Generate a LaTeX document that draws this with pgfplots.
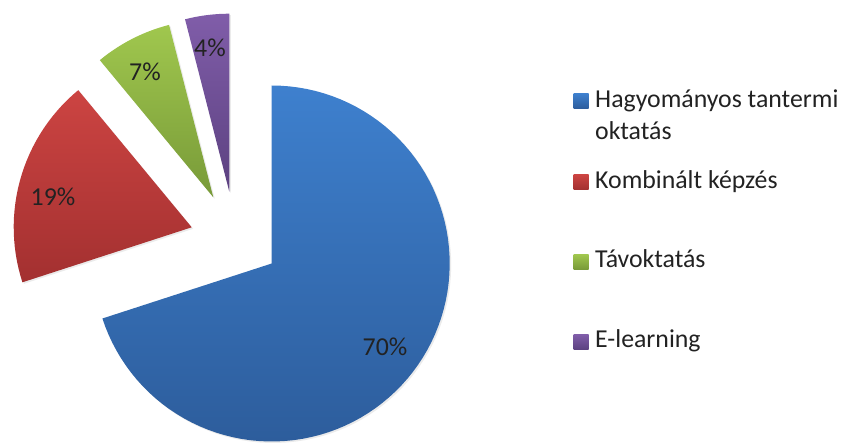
\documentclass[border=0pt]{standalone}
\usepackage{pgfplots}
\pgfplotsset{compat=1.18}
\usepackage{fontspec}
\setmainfont{Carlito}
\definecolor{blueT}{HTML}{3E80CE}
\definecolor{blueB}{HTML}{2D5D9C}
\definecolor{redT}{HTML}{CC4442}
\definecolor{redB}{HTML}{A33030}
\definecolor{greenT}{HTML}{A0C74E}
\definecolor{greenB}{HTML}{789A38}
\definecolor{purT}{HTML}{805DA9}
\definecolor{purB}{HTML}{5C4180}
\definecolor{txt}{HTML}{222222}
\tikzset{lbl/.style={font=\fontsize{25.8}{31}\selectfont, text=txt},
         leg/.style={lbl, anchor=base west, inner sep=0pt}}
% data (percent)
\def\vA{70}\def\vB{19}\def\vC{7}\def\vD{4}
\pgfmathsetmacro\aD{90}
\pgfmathsetmacro\aC{\aD+3.6*\vD}
\pgfmathsetmacro\aB{\aC+3.6*\vC}
\pgfmathsetmacro\aA{\aB+3.6*\vB}
\pgfmathsetmacro\aE{\aA+3.6*\vA}
\def\R{178}
\begin{document}
\begin{tikzpicture}
\begin{axis}[
  scale only axis, width=847pt, height=440pt,
  xmin=0, xmax=847, ymin=-440, ymax=0,
  hide axis, clip=false,
]
\path (axis cs:0,0) rectangle (axis cs:847,-440);
% shadows
\addplot[fill=black, opacity=0.08, draw=none, domain=\aA:\aE, samples=90, variable=\t]
  ({273.2+\R*cos(t)}, {-265+\R*sin(t)}) -- (axis cs:273.2,-265) -- cycle;
\addplot[fill=black, opacity=0.08, draw=none, domain=\aB:\aA, samples=30, variable=\t]
  ({193.2+\R*cos(t)}, {-228.8+\R*sin(t)}) -- (axis cs:193.2,-228.8) -- cycle;
\addplot[fill=black, opacity=0.08, draw=none, domain=\aC:\aB, samples=15, variable=\t]
  ({214.8+\R*cos(t)}, {-198.8+\R*sin(t)}) -- (axis cs:214.8,-198.8) -- cycle;
\addplot[fill=black, opacity=0.08, draw=none, domain=\aD:\aC, samples=10, variable=\t]
  ({230.8+\R*cos(t)}, {-193.2+\R*sin(t)}) -- (axis cs:230.8,-193.2) -- cycle;
% sectors
\addplot[draw=none, top color=blueT, bottom color=blueB, domain=\aA:\aE, samples=90, variable=\t]
  ({271.7+\R*cos(t)}, {-263.5+\R*sin(t)}) -- (axis cs:271.7,-263.5) -- cycle;
\addplot[draw=none, top color=redT, bottom color=redB, domain=\aB:\aA, samples=30, variable=\t]
  ({191.7+\R*cos(t)}, {-227.3+\R*sin(t)}) -- (axis cs:191.7,-227.3) -- cycle;
\addplot[draw=none, top color=greenT, bottom color=greenB, domain=\aC:\aB, samples=15, variable=\t]
  ({213.3+\R*cos(t)}, {-197.3+\R*sin(t)}) -- (axis cs:213.3,-197.3) -- cycle;
\addplot[draw=none, top color=purT, bottom color=purB, domain=\aD:\aC, samples=10, variable=\t]
  ({229.3+\R*cos(t)}, {-191.7+\R*sin(t)}) -- (axis cs:229.3,-191.7) -- cycle;
% percentage labels
\node[lbl] at (axis cs:385,-347) {70\%};
\node[lbl] at (axis cs:53,-197) {19\%};
\node[lbl] at (axis cs:145,-72) {7\%};
\node[lbl] at (axis cs:210,-48) {4\%};
% legend keys
\addplot[draw=none, top color=blueT, bottom color=blueB] coordinates {(573.5,-93.5) (588.5,-93.5) (588.5,-108.5) (573.5,-108.5)} -- cycle;
\addplot[draw=none, top color=redT, bottom color=redB] coordinates {(573.5,-174.5) (588.5,-174.5) (588.5,-189.5) (573.5,-189.5)} -- cycle;
\addplot[draw=none, top color=greenT, bottom color=greenB] coordinates {(573.5,-254.5) (588.5,-254.5) (588.5,-269.5) (573.5,-269.5)} -- cycle;
\addplot[draw=none, top color=purT, bottom color=purB] coordinates {(573.5,-334.5) (588.5,-334.5) (588.5,-349.5) (573.5,-349.5)} -- cycle;
\node[leg] at (axis cs:595,-108) {Hagyományos tantermi};
\node[leg] at (axis cs:595,-140) {oktatás};
\node[leg] at (axis cs:595,-189) {Kombinált képzés};
\node[leg] at (axis cs:595,-268) {Távoktatás};
\node[leg] at (axis cs:595,-348) {E-learning};
\end{axis}
\end{tikzpicture}
\end{document}
